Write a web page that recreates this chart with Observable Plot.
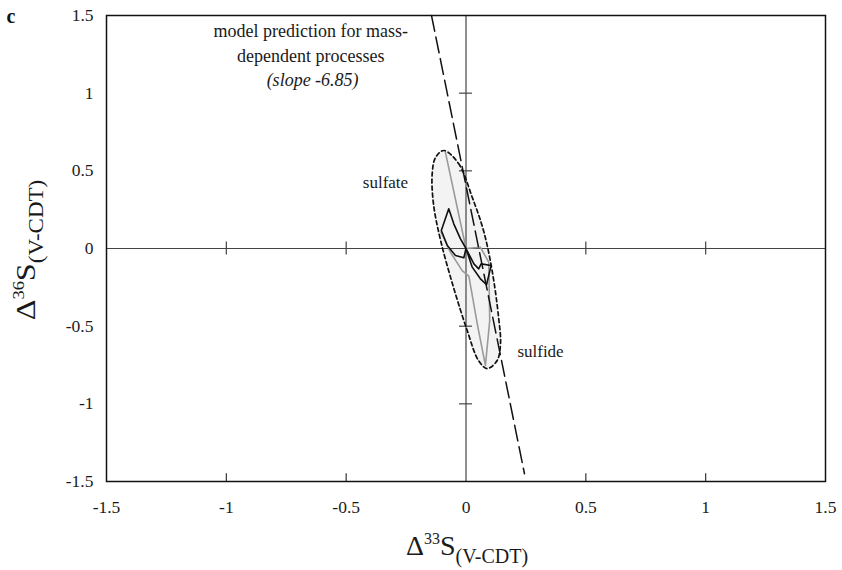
<!DOCTYPE html>
<html>
<head>
<meta charset="utf-8">
<script src="https://cdn.jsdelivr.net/npm/d3@7"></script>
<script src="https://cdn.jsdelivr.net/npm/@observablehq/plot@0.6"></script>
<style>
  html, body { margin: 0; padding: 0; background: #fff; }
  #chart { width: 842px; height: 570px; }
  #chart svg g[aria-label$="tick label"] { font-size: 17.5px !important; fill: #1a1a1a; }
  #chart svg g[aria-label$="tick label"] text { font-size: 17.5px !important; }
</style>
</head>
<body>
<div id="chart"></div>
<script>
// Axis ticks
const xTicks = [-1.5, -1, -0.5, 0, 0.5, 1, 1.5];
const yTicks = [-1.5, -1, -0.5, 0, 0.5, 1, 1.5];
const innerTicks = [-1, -0.5, 0.5, 1];

// Model prediction line (slope -6.85), endpoints
const modelX = [-0.144, 0.244];
const modelY = [1.5, -1.45];

// Dashed ellipse outline enclosing the data
const ellipseX = [-0.093, -0.031, 0.026, 0.073, 0.109, 0.136, 0.144, 0.130, 0.088, 0.052, 0.005, -0.052, -0.106, -0.136, -0.141, -0.127];
const ellipseY = [0.631, 0.547, 0.330, 0.116, -0.142, -0.444, -0.612, -0.721, -0.773, -0.721, -0.528, -0.251, 0.052, 0.290, 0.483, 0.586];

// Grey trajectory
const greyX = [-0.086, 0, 0.060, 0.095, 0.099, 0.081, 0.047, 0.012, -0.016, -0.065, -0.104];
const greyY = [0.620, 0, 0.008, -0.088, -0.464, -0.753, -0.485, -0.178, -0.142, -0.024, 0.105];

// Black trajectory
const blackX = [0, -0.023, -0.051, -0.072, -0.103, -0.078, -0.044, -0.009, 0, 0.033, 0.053, 0.063, 0.105, 0.086, 0.060, 0.026, 0];
const blackY = [0, 0.062, 0.159, 0.256, 0.116, 0.019, -0.045, -0.060, 0, -0.099, -0.131, -0.099, -0.109, -0.232, -0.195, -0.120, 0];

// Annotation labels
const annoText = ["model prediction for mass-", "dependent processes", "(slope -6.85)", "sulfate", "sulfide"];
const annoX = [-0.648, -0.648, -0.640, -0.336, 0.311];
const annoY = [1.400, 1.240, 1.085, 0.425, -0.663];
const annoItalic = [false, false, true, false, false];

const toPts = (xs, ys) => xs.map((x, i) => ({x, y: ys[i]}));
const ellipse = toPts(ellipseX, ellipseY);
const grey = toPts(greyX, greyY);
const black = toPts(blackX, blackY);
const model = toPts(modelX, modelY);
const anno = annoText.map((t, i) => ({t, x: annoX[i], y: annoY[i], it: annoItalic[i], big: i < 3}));

const font = "'Liberation Serif', 'Times New Roman', serif";
const fmt = d => String(d);

const plot = Plot.plot({
  width: 842,
  height: 570,
  marginLeft: 106,
  marginRight: 17,
  marginTop: 15,
  marginBottom: 89,
  style: {fontFamily: font, fontSize: "17.5px", color: "#1a1a1a", background: "#fff"},
  x: {domain: [-1.5, 1.5], label: null},
  y: {domain: [-1.5, 1.5], label: null},
  marks: [
    Plot.line(ellipse, {x: "x", y: "y", curve: "catmull-rom-closed", fill: "#f3f3f3", stroke: "none"}),
    Plot.ruleX([0], {stroke: "#444", strokeWidth: 1.2}),
    Plot.ruleY([0], {stroke: "#444", strokeWidth: 1.2}),
    Plot.ruleX(innerTicks, {x: d => d, y1: -0.042, y2: 0.042, stroke: "#444", strokeWidth: 1.2}),
    Plot.ruleY(innerTicks, {y: d => d, x1: -0.027, x2: 0.027, stroke: "#444", strokeWidth: 1.2}),
    Plot.ruleX(innerTicks, {x: d => d, y1: -1.5, y2: -1.45, stroke: "#333", strokeWidth: 1.2}),
    Plot.line(grey, {x: "x", y: "y", stroke: "#9a9a9a", strokeWidth: 1.6}),
    Plot.line(black, {x: "x", y: "y", stroke: "#111", strokeWidth: 1.6}),
    Plot.line(ellipse, {x: "x", y: "y", curve: "catmull-rom-closed", stroke: "#111", strokeWidth: 1.7, strokeDasharray: "4,3"}),
    Plot.line(model, {x: "x", y: "y", stroke: "#111", strokeWidth: 1.5, strokeDasharray: "16,6"}),
    Plot.text(anno.filter(d => d.big && !d.it), {x: "x", y: "y", text: "t", fontSize: 18, fill: "#1a1a1a"}),
    Plot.text(anno.filter(d => d.it), {x: "x", y: "y", text: "t", fontSize: 18, fontStyle: "italic", fill: "#1a1a1a"}),
    Plot.text(anno.filter(d => !d.big), {x: "x", y: "y", text: "t", fontSize: 17, fill: "#1a1a1a"}),
    Plot.axisX(xTicks, {tickSize: 0, tickPadding: 19, tickFormat: fmt, fontSize: 17.5, label: null}),
    Plot.axisY(yTicks, {tickSize: 0, tickPadding: 13, tickFormat: fmt, fontSize: 17.5, label: null}),
    Plot.frame({stroke: "#111", strokeWidth: 1.5})
  ]
});

document.getElementById("chart").appendChild(plot);

const svg = d3.select(plot);
// panel letter
svg.append("text").attr("x", 11).attr("y", 23)
  .attr("font-family", font).attr("font-weight", "bold").attr("font-size", 20).attr("fill", "#111").text("c");

// x axis title
const xt = svg.append("text").attr("x", 467).attr("y", 555).attr("text-anchor", "middle")
  .attr("font-family", font).attr("font-size", 28).attr("fill", "#1a1a1a");
xt.append("tspan").text("Δ");
xt.append("tspan").attr("font-size", 16).attr("dy", -11).text("33");
xt.append("tspan").attr("dy", 11).text("S");
xt.append("tspan").attr("font-size", 20).attr("dy", 8).text("(V-CDT)");

// y axis title
const yt = svg.append("text").attr("transform", "translate(35,250) rotate(-90) scale(1.15,1)").attr("text-anchor", "middle")
  .attr("font-family", font).attr("font-size", 28).attr("fill", "#1a1a1a");
yt.append("tspan").text("Δ");
yt.append("tspan").attr("font-size", 16).attr("dy", -11).text("36");
yt.append("tspan").attr("dy", 11).text("S");
yt.append("tspan").attr("font-size", 20).attr("dy", 8).text("(V-CDT)");
</script>
</body>
</html>
